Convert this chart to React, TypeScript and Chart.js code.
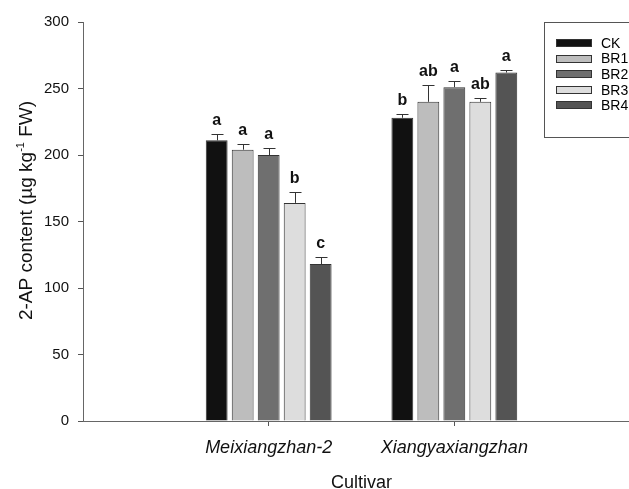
import React, { useEffect, useRef } from 'react';
import { Chart, registerables } from 'chart.js';

Chart.register(...registerables);

const categories = ['Meixiangzhan-2', 'Xiangyaxiangzhan'];
const seriesNames = ['CK', 'BR1', 'BR2', 'BR3', 'BR4'];
const ckValues = [211, 228];
const br1Values = [204, 240];
const br2Values = [200, 251];
const br3Values = [164, 240];
const br4Values = [118, 262];
const ckErrors = [5, 3];
const br1Errors = [4, 13];
const br2Errors = [5, 5];
const br3Errors = [8, 2.5];
const br4Errors = [5, 2];
const ckLetters = ['a', 'b'];
const br1Letters = ['a', 'ab'];
const br2Letters = ['a', 'a'];
const br3Letters = ['b', 'ab'];
const br4Letters = ['c', 'a'];
const yTickValues = [0, 50, 100, 150, 200, 250, 300];
const xTitle = 'Cultivar';
const yTitleMain = '2-AP content (µg kg';
const yTitleSup = '-1';
const yTitleEnd = ' FW)';

const seriesColors = ['#111111', '#bdbdbd', '#6f6f6f', '#dddddd', '#545454'];
const FONT = "'Liberation Sans', Arial, sans-serif";

const errorBarPlugin = {
  id: 'errorBars',
  afterDatasetsDraw(chart: any) {
    const ctx = chart.ctx;
    const y = chart.scales.y;
    ctx.save();
    chart.data.datasets.forEach((ds: any, i: number) => {
      const meta = chart.getDatasetMeta(i);
      meta.data.forEach((bar: any, j: number) => {
        const v = ds.data[j];
        if (v == null) return;
        const err = ds.errors[j];
        const top = y.getPixelForValue(v + err);
        ctx.strokeStyle = '#333';
        ctx.lineWidth = 1;
        ctx.beginPath();
        ctx.moveTo(Math.round(bar.x) + 0.5, bar.y);
        ctx.lineTo(Math.round(bar.x) + 0.5, Math.round(top) + 0.5);
        ctx.moveTo(Math.round(bar.x) - 5.5, Math.round(top) + 0.5);
        ctx.lineTo(Math.round(bar.x) + 6.5, Math.round(top) + 0.5);
        ctx.stroke();
        ctx.fillStyle = '#111';
        ctx.font = `bold 16px ${FONT}`;
        ctx.textAlign = 'center';
        ctx.textBaseline = 'alphabetic';
        ctx.fillText(ds.letters[j], bar.x, top - 9);
      });
    });
    ctx.restore();
  },
};

const legendAndTitlePlugin = {
  id: 'customLegendTitle',
  afterDraw(chart: any) {
    const ctx = chart.ctx;
    const area = chart.chartArea;
    ctx.save();
    ctx.strokeStyle = '#555';
    ctx.lineWidth = 1;
    ctx.strokeRect(544.5, 22.5, 200, 115);
    ctx.font = `14px ${FONT}`;
    ctx.textAlign = 'left';
    ctx.textBaseline = 'middle';
    chart.data.datasets.forEach((ds: any, i: number) => {
      const cy = 43 + i * 15.6;
      ctx.fillStyle = ds.backgroundColor;
      ctx.fillRect(556, Math.round(cy - 4), 36, 8);
      ctx.strokeStyle = '#333';
      ctx.strokeRect(556.5, Math.round(cy - 4) + 0.5, 35, 7);
      ctx.fillStyle = '#000';
      ctx.fillText(ds.label, 601, cy + 1);
    });
    const cx = 25.5;
    const cyT = (area.top + area.bottom) / 2 - 11;
    ctx.translate(cx, cyT);
    ctx.rotate(-Math.PI / 2);
    ctx.font = `19px ${FONT}`;
    const w1 = ctx.measureText(yTitleMain).width;
    ctx.font = `11px ${FONT}`;
    const w2 = ctx.measureText(yTitleSup).width;
    ctx.font = `19px ${FONT}`;
    const w3 = ctx.measureText(yTitleEnd).width;
    const total = w1 + w2 + w3;
    let x = -total / 2;
    ctx.fillStyle = '#111';
    ctx.textBaseline = 'alphabetic';
    ctx.textAlign = 'left';
    ctx.fillText(yTitleMain, x, 6.5);
    x += w1;
    ctx.font = `11px ${FONT}`;
    ctx.fillText(yTitleSup, x, -2);
    x += w2;
    ctx.font = `19px ${FONT}`;
    ctx.fillText(yTitleEnd, x, 6.5);
    ctx.restore();
  },
};

export default function App() {
  const ref = useRef<HTMLCanvasElement>(null);
  useEffect(() => {
    if (!ref.current) return;
    const labels = ['', ...categories, ''];
    const pad = (arr: any[]) => [null, ...arr, null];
    const values = [ckValues, br1Values, br2Values, br3Values, br4Values];
    const errors = [ckErrors, br1Errors, br2Errors, br3Errors, br4Errors];
    const letters = [ckLetters, br1Letters, br2Letters, br3Letters, br4Letters];
    const chart = new Chart(ref.current, {
      type: 'bar',
      data: {
        labels,
        datasets: seriesNames.map((name, i) => ({
          label: name,
          data: pad(values[i]),
          errors: pad(errors[i]),
          letters: pad(letters[i]),
          backgroundColor: seriesColors[i],
          borderColor: '#333',
          borderWidth: 1,
          categoryPercentage: 0.7,
          barPercentage: 0.84,
        })) as any,
      },
      options: {
        animation: false,
        responsive: false,
        devicePixelRatio: 1,
        layout: { padding: { top: 22, right: 40, left: 0, bottom: 0 } },
        plugins: {
          legend: { display: false },
          tooltip: { enabled: false },
        },
        scales: {
          x: {
            type: 'category',
            offset: false,
            afterFit: (s: any) => {
              s.height = 79;
            },
            grid: {
              offset: false,
              drawOnChartArea: false,
              drawTicks: true,
              tickLength: 5,
              color: (c: any) => (c.index === 1 || c.index === 2 ? '#555' : 'rgba(0,0,0,0)'),
            },
            border: { display: true, color: '#666', width: 1 },
            ticks: {
              autoSkip: false,
              maxRotation: 0,
              padding: 11,
              color: '#111',
              font: { family: FONT, size: 18, style: 'italic' },
            },
            title: {
              display: true,
              text: xTitle,
              color: '#111',
              font: { family: FONT, size: 18 },
              padding: { top: 0, bottom: 6 },
            },
          },
          y: {
            min: 0,
            max: 300,
            afterFit: (s: any) => {
              s.width = 83;
            },
            afterBuildTicks: (s: any) => {
              s.ticks = yTickValues.map((v) => ({ value: v }));
            },
            grid: {
              drawOnChartArea: false,
              drawTicks: true,
              tickLength: 5,
              color: '#555',
            },
            border: { display: true, color: '#666', width: 1 },
            ticks: {
              padding: 9,
              color: '#111',
              font: { family: FONT, size: 15 },
            },
            title: { display: false },
          },
        },
      },
      plugins: [errorBarPlugin, legendAndTitlePlugin],
    });
    return () => chart.destroy();
  }, []);
  return (
    <div
      style={{
        position: 'fixed',
        left: 0,
        top: 0,
        width: 629,
        height: 489,
        overflow: 'hidden',
        background: '#fff',
      }}
    >
      <canvas ref={ref} width={680} height={500} style={{ display: 'block', width: 680, height: 500 }} />
    </div>
  );
}
